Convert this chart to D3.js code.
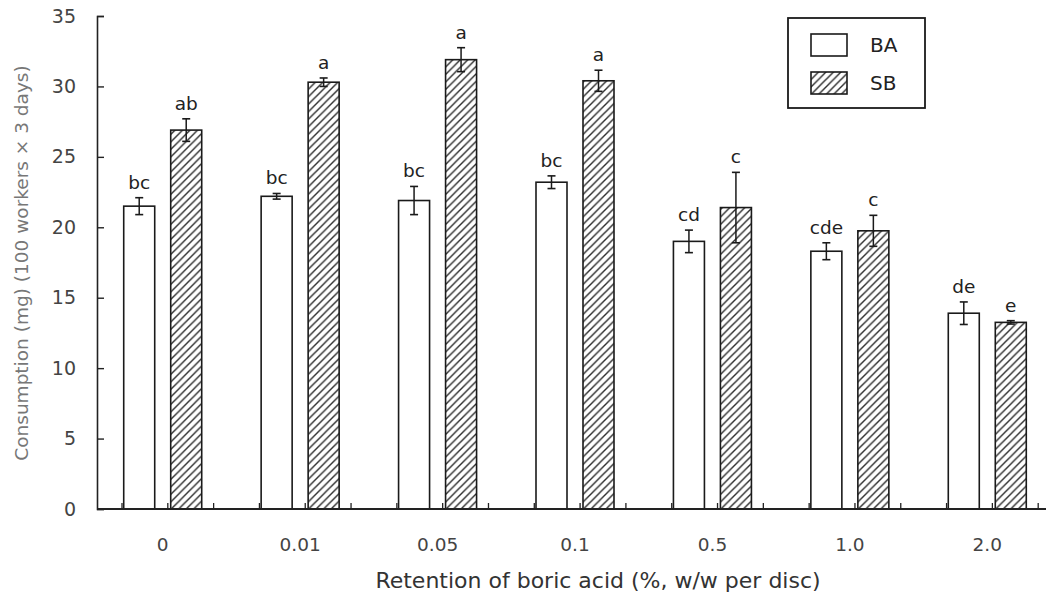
<!DOCTYPE html>
<html>
<head>
<meta charset="utf-8">
<script src="https://cdn.jsdelivr.net/npm/d3@7"></script>
<style>
  html, body { margin: 0; padding: 0; background: #fff; }
  svg text { font-family: "DejaVu Sans", sans-serif; }
</style>
</head>
<body>
<svg id="chart" width="1050" height="605"></svg>
<script>
const categories = ["0", "0.01", "0.05", "0.1", "0.5", "1.0", "2.0"];
const seriesNames = ["BA", "SB"];
const baValues = [21.5, 22.2, 21.9, 23.2, 19.0, 18.3, 13.9];
const baErrors = [0.6, 0.2, 1.0, 0.45, 0.8, 0.6, 0.8];
const baLetters = ["bc", "bc", "bc", "bc", "cd", "cde", "de"];
const sbValues = [26.9, 30.3, 31.9, 30.4, 21.4, 19.75, 13.25];
const sbErrors = [0.8, 0.3, 0.85, 0.75, 2.5, 1.1, 0.12];
const sbLetters = ["ab", "a", "a", "a", "c", "c", "e"];
const yTicks = [0, 5, 10, 15, 20, 25, 30, 35];

const svg = d3.select("#chart");

const defs = svg.append("defs");
const pat = defs.append("pattern")
  .attr("id", "hatch").attr("patternUnits", "userSpaceOnUse")
  .attr("width", 7.5).attr("height", 7.5);
pat.append("rect").attr("width", 7.5).attr("height", 7.5).attr("fill", "#fff");
pat.append("path")
  .attr("d", "M-2,2 L2,-2 M0,7.5 L7.5,0 M5.5,9.5 L9.5,5.5")
  .attr("stroke", "#2a2a2a").attr("stroke-width", 1.4);

const y = d3.scaleLinear().domain([0, 35]).range([509, 16]);
const x0 = d3.scaleBand().domain(categories).range([94, 1056]);
const x1 = d3.scaleBand().domain(seriesNames).range([-39, 39]).paddingInner(16 / 47);

const data = categories.map((c, i) => ({
  cat: c,
  vals: [
    { s: "BA", v: baValues[i], e: baErrors[i], l: baLetters[i] },
    { s: "SB", v: sbValues[i], e: sbErrors[i], l: sbLetters[i] }
  ]
}));

// Y axis
const yAxis = d3.axisLeft(y).tickValues(yTicks).tickSize(-7).tickPadding(21).tickFormat(d3.format("d"));
const gy = svg.append("g").attr("transform", "translate(97,0)").call(yAxis);
gy.select(".domain").attr("stroke", "#222").attr("stroke-width", 1.6);
gy.selectAll(".tick line").attr("stroke", "#222").attr("stroke-width", 1.4);
gy.selectAll(".tick text").attr("font-size", 19).attr("fill", "#444")
  .attr("font-family", "DejaVu Sans, sans-serif");

// Bars
const groups = svg.append("g").selectAll("g").data(data).join("g")
  .attr("transform", d => `translate(${x0(d.cat) + x0.bandwidth() / 2},0)`);

groups.selectAll("rect").data(d => d.vals).join("rect")
  .attr("x", d => x1(d.s))
  .attr("y", d => y(d.v))
  .attr("width", x1.bandwidth())
  .attr("height", d => y(0) - y(d.v))
  .attr("fill", d => d.s === "BA" ? "#fff" : "url(#hatch)")
  .attr("stroke", "#1a1a1a").attr("stroke-width", 1.6);

// Error bars
const eb = groups.selectAll("g.err").data(d => d.vals).join("g").attr("class", "err")
  .attr("transform", d => `translate(${x1(d.s) + x1.bandwidth() / 2},0)`);
eb.append("line").attr("x1", 0).attr("x2", 0)
  .attr("y1", d => y(d.v + d.e)).attr("y2", d => y(d.v - d.e))
  .attr("stroke", "#1a1a1a").attr("stroke-width", 1.5);
eb.append("line").attr("x1", -4).attr("x2", 4)
  .attr("y1", d => y(d.v + d.e)).attr("y2", d => y(d.v + d.e))
  .attr("stroke", "#1a1a1a").attr("stroke-width", 1.6);
eb.append("line").attr("x1", -4).attr("x2", 4)
  .attr("y1", d => y(d.v - d.e)).attr("y2", d => y(d.v - d.e))
  .attr("stroke", "#1a1a1a").attr("stroke-width", 1.6);
eb.append("text").attr("text-anchor", "middle")
  .attr("y", d => y(d.v + d.e) - 9)
  .attr("font-size", 18.5).attr("fill", "#222")
  .text(d => d.l);

// X axis
const xAxis = d3.axisBottom(x0).tickSize(0).tickPadding(29);
const gx = svg.append("g").attr("transform", "translate(0,509)").call(xAxis);
gx.select(".domain").remove();
gx.selectAll(".tick text").attr("font-size", 18.5).attr("fill", "#444")
  .attr("font-family", "DejaVu Sans, sans-serif");
svg.append("line").attr("x1", 97).attr("x2", 1046).attr("y1", 509).attr("y2", 509)
  .attr("stroke", "#222").attr("stroke-width", 2);
// minor ticks on x axis
const minor = [];
categories.forEach(c => { for (let k = 0; k < 3; k++) minor.push(x0(c) + 28 + k * x0.bandwidth() / 3); });
svg.append("g").selectAll("line").data(minor).join("line")
  .attr("x1", d => d).attr("x2", d => d).attr("y1", 509).attr("y2", 503)
  .attr("stroke", "#222").attr("stroke-width", 1.3);

// Axis titles
svg.append("text").attr("x", 598).attr("y", 588).attr("text-anchor", "middle")
  .attr("font-size", 22).attr("fill", "#333")
  .text("Retention of boric acid (%, w/w per disc)");
svg.append("text").attr("transform", "translate(28,263) rotate(-90)")
  .attr("text-anchor", "middle").attr("font-size", 18.5).attr("fill", "#777")
  .text("Consumption (mg) (100 workers × 3 days)");

// Legend
const lg = svg.append("g");
lg.append("rect").attr("x", 788).attr("y", 18).attr("width", 137).attr("height", 90)
  .attr("fill", "#fff").attr("stroke", "#1a1a1a").attr("stroke-width", 1.8);
const li = lg.selectAll("g").data(seriesNames).join("g")
  .attr("transform", (d, i) => `translate(811,${34 + i * 38})`);
li.append("rect").attr("width", 36).attr("height", 22)
  .attr("fill", d => d === "BA" ? "#fff" : "url(#hatch)")
  .attr("stroke", "#1a1a1a").attr("stroke-width", 1.6);
li.append("text").attr("x", 59).attr("y", 18).attr("font-size", 20).attr("fill", "#222").text(d => d);
</script>
</body>
</html>
